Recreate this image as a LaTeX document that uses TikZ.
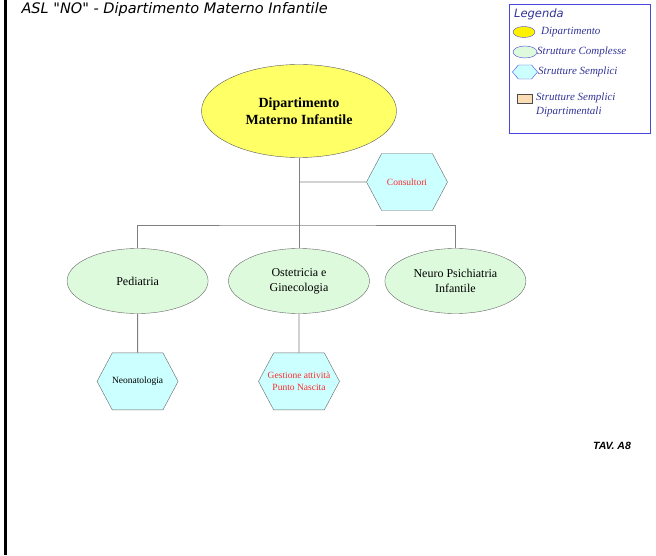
\documentclass[tikz,border=0pt]{standalone}
\usepackage{fontspec}
\setmainfont{Liberation Serif}
\newfontfamily\titlefont{DejaVu Sans}
\newfontfamily\tavfont{Liberation Sans}
\usetikzlibrary{positioning,shapes.geometric,shapes.symbols}
\definecolor{dipyellow}{HTML}{FFFF66}
\definecolor{scgreen}{HTML}{DDFADD}
\definecolor{sscyan}{HTML}{CCFFFF}
\definecolor{ssdtan}{HTML}{FADDB4}
\definecolor{legtext}{HTML}{333399}
\definecolor{legborder}{HTML}{4848E0}
\definecolor{linkgray}{HTML}{7F7F7F}
\definecolor{redtext}{HTML}{FF2A2A}

\begin{document}
\begin{tikzpicture}[x=1pt,y=-1pt,node distance=39pt,
		dip node/.style={ellipse,draw=black!65,fill=dipyellow,minimum width=195pt,minimum height=93pt,align=center,font=\fontsize{14}{17}\selectfont\bfseries},
		sc node/.style={ellipse,draw=black!60,fill=scgreen,minimum width=141pt,minimum height=65pt,align=center,font=\fontsize{12}{15}\selectfont},
		ss node/.style={signal,signal to=west and east,signal pointer angle=124,draw=black!60,fill=sscyan,minimum width=81pt,minimum height=57pt,inner xsep=-10pt,inner ysep=0pt,align=center,font=\fontsize{9.5}{12}\selectfont},
		leg text/.style={anchor=west,inner sep=0pt,text=legtext,align=left,font=\fontsize{11}{14}\selectfont\itshape},
		link/.style={draw=linkgray,line width=0.9pt}]
		\useasboundingbox (0,0) rectangle (656,556);
		\draw[line width=2.5pt] (5.5,0) -- (5.5,555);
		\node[anchor=west,font=\titlefont\fontsize{14.5}{16}\selectfont\itshape] (title) at (18,10) {ASL "NO" - Dipartimento Materno Infantile};
		
		\node[dip node] (dip) at (299,111) {Dipartimento\\Materno Infantile};
		\node[ss node,text=redtext] (cons) at (407,182) {Consultori};
		\node[sc node] (ost) at (299,281) {Ostetricia e\\Ginecologia};
		\node[sc node] (ped) [left=20pt of ost] {Pediatria};
		\node[sc node] (neuro) [right=15pt of ost] {Neuro Psichiatria\\Infantile};
		\node[ss node] (neo) [below=of ped] {Neonatologia};
		\node[ss node,text=redtext] (gest) [below=of ost] {Gestione attività\\Punto Nascita};
		\coordinate (bus) at (299,225);
		
		\draw[link] (dip) -- (ost);
		\draw[link] (dip |- cons) -- (cons);
		\draw[link] (ped.north) |- (bus) -| (neuro.north);
		\path[link]
		(ped) edge (neo)
		(ost) edge (gest);
		
		% legenda
		\node[draw=legborder,line width=1pt,minimum width=141pt,minimum height=129pt,inner sep=0pt] (leg) at (579.5,69.5) {};
		\node[anchor=west,inner sep=0pt,text=legtext,font=\titlefont\fontsize{11.5}{13}\selectfont\itshape] (legtitle) at (514,14) {Legenda};
		\node[ellipse,draw=legborder,fill=yellow,minimum width=22pt,minimum height=11pt,inner sep=0pt] (legdip) at (524,32) {};
		\node[ellipse,draw=legborder,fill=scgreen,minimum width=24pt,minimum height=12pt,inner sep=0pt] (legsc) at (525,52) {};
		\node[signal,signal to=west and east,signal pointer angle=100,draw=legborder,fill=sscyan,minimum width=25pt,minimum height=14pt,inner sep=0pt] (legss) at (525,72) {};
		\node[draw=black!70,fill=ssdtan,minimum width=15pt,minimum height=9pt,inner sep=0pt] (legssd) at (524.5,99) {};
		\node[leg text] at (541,32) {Dipartimento};
		\node[leg text] at (537,52) {Strutture Complesse};
		\node[leg text] at (538,72) {Strutture Semplici};
		\node[leg text,anchor=north west] at (536,93) {Strutture Semplici\\Dipartimentali};
		
		\node[font=\tavfont\fontsize{10.5}{12}\selectfont\bfseries\itshape] (tav) at (612,446) {TAV. A8};
		\end{tikzpicture}
\end{document}
